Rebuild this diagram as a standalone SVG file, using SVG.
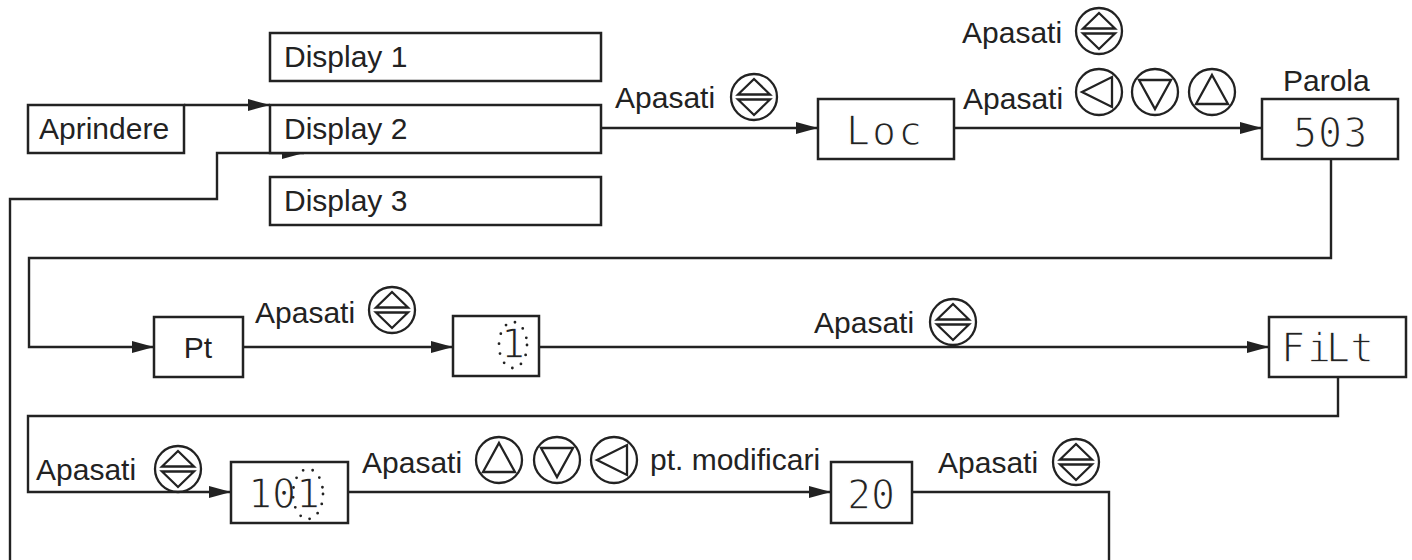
<svg xmlns="http://www.w3.org/2000/svg" width="1412" height="560" viewBox="0 0 1412 560">
<style>
.box{fill:#fff;stroke:#222;stroke-width:2.5}
.lbl{font-family:"Liberation Sans",Arial,sans-serif;font-size:30px;fill:#222}
.seg{font-family:"DejaVu Sans Mono",monospace;font-size:40px;fill:#222;stroke:#fff;stroke-width:1.3}
.con{fill:none;stroke:#222;stroke-width:2.4}
.ico{fill:none;stroke:#222;stroke-width:2.3;stroke-linejoin:miter}
.dots{fill:none;stroke:#222;stroke-width:2.8;stroke-linecap:round;stroke-dasharray:0 10}
</style>
<defs>
<marker id="arr" markerUnits="userSpaceOnUse" markerWidth="24" markerHeight="14" refX="22" refY="6" orient="auto">
<path d="M0,0 L22,6 L0,12 Z" fill="#222"/>
</marker>
<g id="i-enter" class="ico"><circle r="23"/><path d="M0,-18 L-16,-2.5 L16,-2.5 Z M-16,2.5 L16,2.5 L0,18 Z"/></g>
<g id="i-left" class="ico"><circle r="23"/><path d="M-17,0 L13,-15 L13,15 Z"/></g>
<g id="i-down" class="ico"><circle r="23"/><path d="M-16,-12 L16,-12 L0,17 Z"/></g>
<g id="i-up" class="ico"><circle r="23"/><path d="M0,-17 L16,12 L-16,12 Z"/></g>
</defs>
<rect width="1412" height="560" fill="#fff"/>

<g id="connectors">
<path class="con" d="M184,105 H270" marker-end="url(#arr)"/>
<path class="con" d="M10,560 V199 H217 V153 H304" marker-end="url(#arr)"/>
<path class="con" d="M601,128 H818" marker-end="url(#arr)"/>
<path class="con" d="M954,128 H1262" marker-end="url(#arr)"/>
<path class="con" d="M1331,159 V258 H29 V347 H154" marker-end="url(#arr)"/>
<path class="con" d="M243,347 H453" marker-end="url(#arr)"/>
<path class="con" d="M539,347 H1269" marker-end="url(#arr)"/>
<path class="con" d="M1338,377 V416 H28 V492 H231" marker-end="url(#arr)"/>
<path class="con" d="M348,492 H831" marker-end="url(#arr)"/>
<path class="con" d="M912,492 H1109 V560"/>
</g>

<g id="labels">
<text class="lbl" x="615" y="108">Apasati</text><use href="#i-enter" x="754" y="97"/>
<text class="lbl" x="962" y="43">Apasati</text><use href="#i-enter" x="1099" y="31"/>
<text class="lbl" x="963" y="109">Apasati</text><use href="#i-left" x="1099" y="92"/><use href="#i-down" x="1155" y="92"/><use href="#i-up" x="1212" y="92"/>
<text class="lbl" x="1283" y="91">Parola</text>
<text class="lbl" x="255" y="323">Apasati</text><use href="#i-enter" x="392" y="310"/>
<text class="lbl" x="814" y="333">Apasati</text><use href="#i-enter" x="953" y="322"/>
<text class="lbl" x="36" y="480">Apasati</text><use href="#i-enter" x="178" y="469"/>
<text class="lbl" x="362" y="473">Apasati</text><use href="#i-up" x="499" y="460"/><use href="#i-down" x="557" y="460"/><use href="#i-left" x="614" y="460"/>
<text class="lbl" x="650" y="470">pt. modificari</text>
<text class="lbl" x="938" y="473">Apasati</text><use href="#i-enter" x="1076" y="462"/>
</g>

<g id="n-aprindere"><rect class="box" x="28" y="105" width="156" height="48"/><text class="lbl" x="39" y="139">Aprindere</text></g>
<g id="n-display1"><rect class="box" x="270" y="33" width="331" height="48"/><text class="lbl" x="284" y="67">Display 1</text></g>
<g id="n-display2"><rect class="box" x="270" y="105" width="331" height="48"/><text class="lbl" x="284" y="139">Display 2</text></g>
<g id="n-display3"><rect class="box" x="270" y="177" width="331" height="48"/><text class="lbl" x="284" y="211">Display 3</text></g>
<g id="n-loc"><rect class="box" x="818" y="99" width="136" height="60"/><text class="seg" x="846" y="145" letter-spacing="2">Loc</text></g>
<g id="n-parola"><rect class="box" x="1262" y="99" width="136" height="60"/><text class="seg" x="1293" y="147" letter-spacing="1">503</text></g>
<g id="n-pt"><rect class="box" x="154" y="317" width="89" height="60"/><text class="lbl" x="198" y="358" text-anchor="middle">Pt</text></g>
<g id="n-digit1"><rect class="box" x="453" y="316" width="86" height="60"/><text class="seg" x="513" y="358" text-anchor="middle">1</text><ellipse class="dots" cx="513" cy="345" rx="14" ry="23"/></g>
<g id="n-filt"><rect class="box" x="1269" y="317" width="137" height="60"/><text class="seg" x="1281 1307 1326 1350" y="362">FiLt</text></g>
<g id="n-101"><rect class="box" x="231" y="462" width="117" height="61"/><text class="seg" x="248" y="508">10</text><text class="seg" x="308" y="508" text-anchor="middle">1</text><ellipse class="dots" cx="308" cy="494" rx="15" ry="25"/></g>
<g id="n-20"><rect class="box" x="831" y="462" width="81" height="61"/><text class="seg" x="847" y="509">20</text></g>
</svg>
